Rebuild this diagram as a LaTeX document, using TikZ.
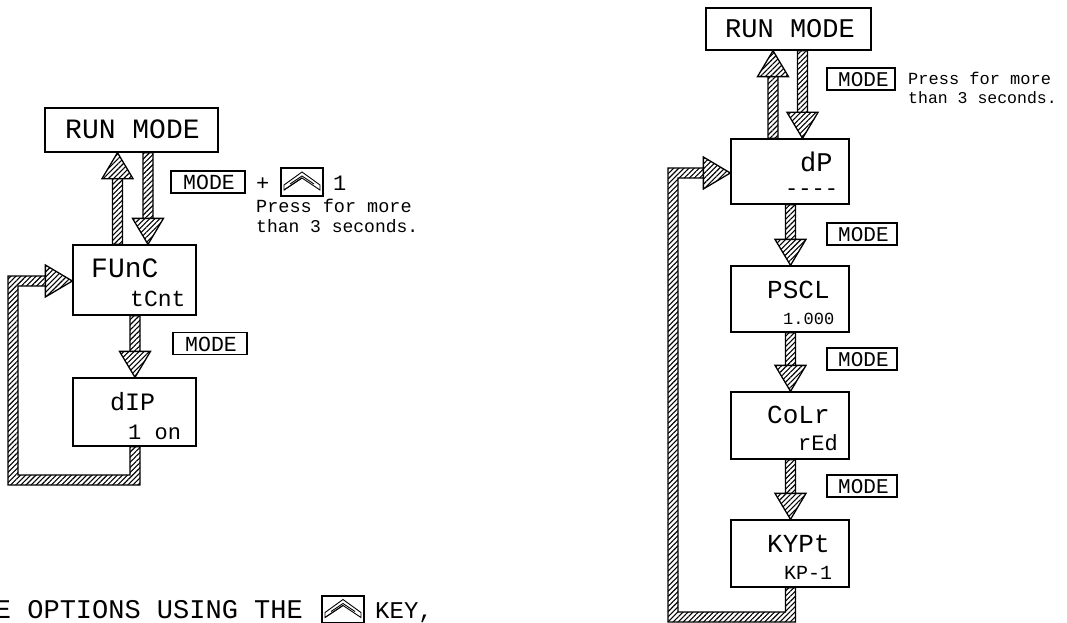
\documentclass[tikz,border=0pt]{standalone}
\usepackage{fontspec}
\setmonofont{Liberation Mono}
\usetikzlibrary{calc,patterns.meta}
\newcommand\fs[1]{\fontsize{#1}{#1}\selectfont\ttfamily}
\tikzset{
  x=1pt,y=-1pt,
  flowbox/.style={draw=black,line width=1.3pt,rectangle,minimum width=#1,inner sep=0pt,text=black},
  keybox/.style={draw=black,line width=1.3pt,rectangle,inner sep=0pt},
  txt/.style={anchor=base west,inner sep=0pt,text=black},
  hatch/.style={draw=black,line width=1.3pt,line join=miter,pattern={Lines[angle=45,distance=3.6pt,line width=1.1pt]}},
  chev/.style={draw=black,line width=.9pt}
}
% vertical connector with arrowhead at the end: from node south/north, at x of coordinate
\newcommand\dnconn[3]{%
  \path let \p1=(#3 |- #1.south),\p2=(#3 |- #2.north) in
   [hatch] (\x1-5pt,\y1) -- (\x1-5pt,\y2+26pt) -- (\x1+5pt,\y2+26pt) -- (\x1+5pt,\y1) -- cycle
   (\x1-15.5pt,\y2+26pt) -- (\x1+15.5pt,\y2+26pt) -- (\x1,\y2) -- cycle;}
\newcommand\upconn[3]{%
  \path let \p1=(#3 |- #1.north),\p2=(#3 |- #2.south) in
   [hatch] (\x1-5pt,\y1) -- (\x1-5pt,\y2-26pt) -- (\x1+5pt,\y2-26pt) -- (\x1+5pt,\y1) -- cycle
   (\x1-15.5pt,\y2-26pt) -- (\x1+15.5pt,\y2-26pt) -- (\x1,\y2) -- cycle;}
% feedback: #1 from node, #2 to node, #3 x of drop, #4 corner coordinate (left,bottom), #5 y coordinate of entry
\newcommand\loopconn[5]{%
  \path let \p1=(#3 |- #1.south),\p2=(#4),\p3=(#2.west |- #5) in
   [hatch] (\x1-5pt,\y1) -- (\x1-5pt,\y2+10pt) -- (\x2+10pt,\y2+10pt) -- (\x2+10pt,\y3-5pt) -- (\x3-27pt,\y3-5pt)
     -- (\x3-27pt,\y3+5pt) -- (\x2,\y3+5pt) -- (\x2,\y2) -- (\x1+5pt,\y2) -- (\x1+5pt,\y1) -- cycle
   (\x3-27pt,\y3-16pt) -- (\x3,\y3) -- (\x3-27pt,\y3+16pt) -- cycle;}
\newcommand\upkeyicon[1]{%
  \begin{scope}[shift={(#1.center)}]
    \draw[chev] (-18,3)--(0,-10)--(18,3)--(18,8)--(0,-4)--(-18,8)--cycle;
    \draw[chev] (-18,8)--(0,-4) (-12,2)--(0,-6)--(12,2);
  \end{scope}}
\begin{document}
\begin{tikzpicture}
\useasboundingbox (0,0) rectangle (1067,623);
% ---------- left column
\node[flowbox=173pt,minimum height=44pt] (runA) at (131.5,130) {};
\node[flowbox=123pt,minimum height=70pt] (func) at (134.5,280) {};
\node[flowbox=123pt,minimum height=68pt] (dip) at (134.5,412) {};
\coordinate (xA1) at (117.5,0);
\coordinate (xA2) at (148,0);
\coordinate (xA3) at (135,0);
\coordinate (cornerA) at (8,485);
\coordinate (entryA) at (0,281);
\upconn{func}{runA}{xA1}
\dnconn{runA}{func}{xA2}
\dnconn{func}{dip}{xA3}
\loopconn{dip}{func}{xA3}{cornerA}{entryA}
\node[txt,font=\fs{28}] (tRunA) at (65,139) {RUN MODE};
\node[txt,font=\fs{28}] (tFunc) at (91,277) {FUnC};
\node[txt,font=\fs{23}] (tCnt) at (130,306) {tCnt};
\node[txt,font=\fs{25}] (tDip) at (110,410) {dIP};
\node[txt,font=\fs{22}] (tOn) at (128,439) {1 on};
\node[keybox,minimum width=74pt,minimum height=22pt] (keyA1) at (208,182) {};
\node[txt,font=\fs{21.5}] (tKeyA1) at (183,189) {MODE};
\node[txt,font=\fs{22}] (plus) at (256,190) {+};
\node[keybox,minimum width=42pt,minimum height=28pt] (upA) at (302,182) {};
\upkeyicon{upA}
\node[txt,font=\fs{22}] (one) at (333,190) {1};
\node[txt,font=\fs{18.5}] (pressA) at (256,212) {Press for more};
\node[txt,font=\fs{18}] (thanA) at (256,232) {than 3 seconds.};
\node[keybox,minimum width=74pt,minimum height=22pt] (keyA2) at (210,343.5) {};
\node[txt,font=\fs{21.5}] (tKeyA2) at (185,351) {MODE};
\node[anchor=base east,inner sep=0pt,font=\fs{27}] (bottomT) at (303,618) {E OPTIONS USING THE};
\node[keybox,minimum width=42pt,minimum height=27pt] (upB) at (343,609.5) {};
\upkeyicon{upB}
\node[txt,font=\fs{24}] (keyW) at (375,618) {KEY,};
% ---------- right column
\node[flowbox=165pt,minimum height=42pt] (runB) at (788.5,29) {};
\node[flowbox=118pt,minimum height=65pt] (dp) at (790,171.5) {};
\node[flowbox=118pt,minimum height=66pt] (pscl) at (790,299) {};
\node[flowbox=118pt,minimum height=67pt] (colr) at (790,425.5) {};
\node[flowbox=118pt,minimum height=67pt] (kypt) at (790,553.5) {};
\coordinate (xB1) at (773,0);
\coordinate (xB2) at (802.5,0);
\coordinate (xB3) at (790.5,0);
\coordinate (cornerB) at (668,622);
\coordinate (entryB) at (0,173);
\upconn{dp}{runB}{xB1}
\dnconn{runB}{dp}{xB2}
\dnconn{dp}{pscl}{xB3}
\dnconn{pscl}{colr}{xB3}
\dnconn{colr}{kypt}{xB3}
\loopconn{kypt}{dp}{xB3}{cornerB}{entryB}
\node[txt,font=\fs{27}] (tRunB) at (725,38) {RUN MODE};
\node[txt,font=\fs{27}] (tDp) at (800,171) {dP};
\node[txt,font=\fs{22}] (tDash) at (785,195) {----};
\node[txt,font=\fs{26}] (tPscl) at (767,298) {PSCL};
\node[txt,font=\fs{17}] (tVal) at (783,324) {1.000};
\node[txt,font=\fs{26}] (tColr) at (767,423) {CoLr};
\node[txt,font=\fs{22}] (tRed) at (798,450) {rEd};
\node[txt,font=\fs{26}] (tKypt) at (767,552) {KYPt};
\node[txt,font=\fs{20}] (tKp) at (784,579) {KP-1};
\node[keybox,minimum width=68pt,minimum height=22pt] (keyB1) at (861,79) {};
\node[txt,font=\fs{21}] (tKeyB1) at (838,87) {MODE};
\node[txt,font=\fs{17}] (pressB) at (908,85) {Press for more};
\node[txt,font=\fs{16.5}] (thanB) at (908,103) {than 3 seconds.};
\node[keybox,minimum width=70pt,minimum height=22pt] (keyB2) at (862,234) {};
\node[txt,font=\fs{21}] (tKeyB2) at (838,241) {MODE};
\node[keybox,minimum width=70pt,minimum height=22pt] (keyB3) at (862,359) {};
\node[txt,font=\fs{21}] (tKeyB3) at (838,366) {MODE};
\node[keybox,minimum width=70pt,minimum height=22pt] (keyB4) at (862,486) {};
\node[txt,font=\fs{21}] (tKeyB4) at (838,493) {MODE};
\end{tikzpicture}
\end{document}
